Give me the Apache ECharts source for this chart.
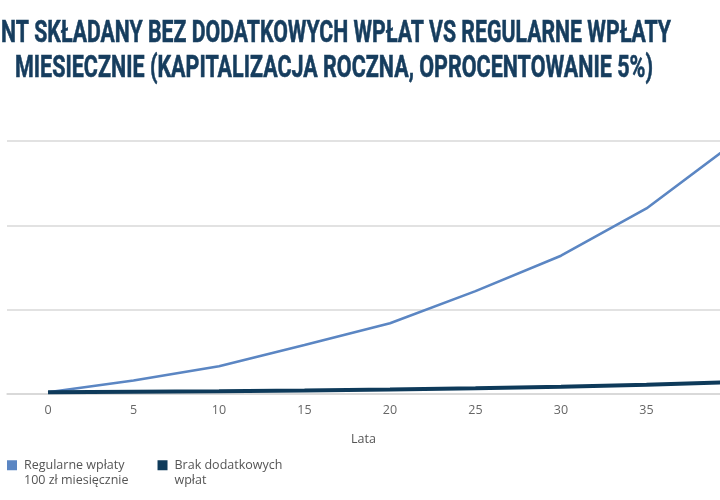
<!DOCTYPE html>
<html>
<head>
<meta charset="utf-8">
<script src="https://cdn.jsdelivr.net/npm/echarts@6/dist/echarts.min.js"></script>
<style>
html,body{margin:0;padding:0;background:#fff;}
#chart{width:720px;height:500px;}
</style>
</head>
<body>
<div id="chart"></div>
<script>
const titleLine1 = 'NT SKŁADANY BEZ DODATKOWYCH WPŁAT VS REGULARNE WPŁATY';
const titleLine2 = 'MIESIECZNIE (KAPITALIZACJA ROCZNA, OPROCENTOWANIE 5%)';
const years = [0, 5, 10, 15, 20, 25, 30, 35, 40];
const yearTicks = [0, 5, 10, 15, 20, 25, 30, 35];
const seriesNames = ['Regularne wpłaty\n100 zł miesięcznie', 'Brak dodatkowych\nwpłat'];
const regularValues = [1000, 8000, 16500, 29000, 42000, 61000, 82000, 110000, 148000];
const noDepositValues = [1000, 1300, 1600, 2100, 2700, 3400, 4300, 5500, 7000];
const xAxisName = 'Lata';

const titleFont = 'bold 31px Roboto';
function fitScale(text, target) {
  const ctx = document.createElement('canvas').getContext('2d');
  ctx.font = titleFont;
  return target / ctx.measureText(text).width;
}
const s1 = fitScale(titleLine1, 670);
const s2 = fitScale(titleLine2, 638);

const pairs = (vals) => years.map((y, i) => [y, vals[i]]);

const chart = echarts.init(document.getElementById('chart'));
chart.setOption({
  backgroundColor: '#ffffff',
  animation: false,
  graphic: [
    { type: 'text', x: 1, y: 34, scaleX: s1, style: { text: titleLine1, font: titleFont, fill: '#163d5e', stroke: '#163d5e', lineWidth: 0.6, textVerticalAlign: 'middle' } },
    { type: 'text', x: 15, y: 69, scaleX: s2, style: { text: titleLine2, font: titleFont, fill: '#163d5e', stroke: '#163d5e', lineWidth: 0.6, textVerticalAlign: 'middle' } }
  ],
  grid: { left: 7, right: 0, top: 141, bottom: 106 },
  legend: {
    left: 7, top: 442, padding: 0,
    icon: 'rect', itemWidth: 10, itemHeight: 10, itemGap: 29,
    formatter: (name) => '\n' + name,
    textStyle: { fontFamily: 'Open Sans', fontSize: 12.5, color: '#555', lineHeight: 15.5, padding: [0, 0, 0, 2] },
    data: seriesNames
  },
  xAxis: {
    type: 'value', min: -2.4, max: 39.3,
    name: xAxisName, nameLocation: 'middle', nameGap: 39,
    nameTextStyle: { fontFamily: 'Open Sans', fontSize: 12.5, color: '#555' },
    axisLine: { lineStyle: { color: '#d6d6d6', width: 1.5 } },
    axisTick: { show: false },
    splitLine: { show: false },
    axisLabel: { customValues: yearTicks, fontFamily: 'Open Sans', fontSize: 12.5, color: '#666', margin: 10 }
  },
  yAxis: {
    type: 'value', min: 0, max: 150000, interval: 50000,
    axisLabel: { show: false }, axisLine: { show: false }, axisTick: { show: false },
    splitLine: { lineStyle: { color: '#d9d9d9', width: 1.5 } }
  },
  series: [
    { name: seriesNames[0], type: 'line', data: pairs(regularValues), showSymbol: false, symbol: 'none',
      lineStyle: { color: '#5b86c3', width: 2.6 }, itemStyle: { color: '#5b86c3' } },
    { name: seriesNames[1], type: 'line', data: pairs(noDepositValues), showSymbol: false, symbol: 'none',
      lineStyle: { color: '#0e3a5a', width: 4 }, itemStyle: { color: '#0e3a5a' } }
  ]
});
</script>
</body>
</html>
